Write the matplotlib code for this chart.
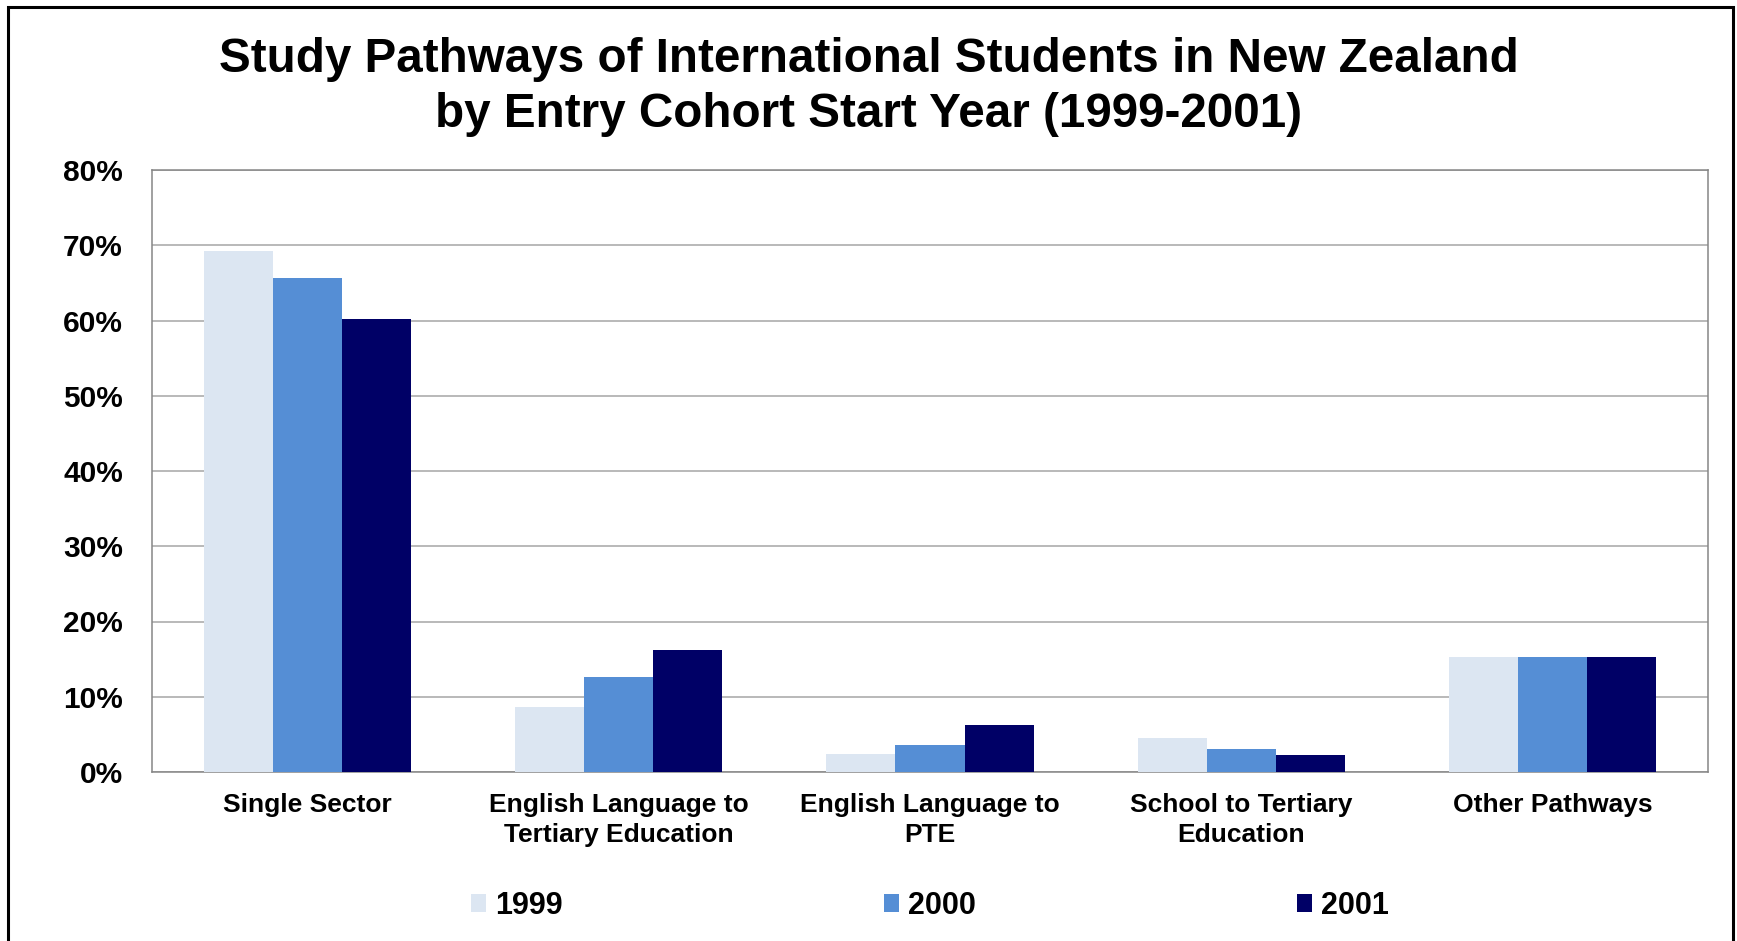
import numpy as np
import matplotlib
matplotlib.use('Agg')
import matplotlib.pyplot as plt
from matplotlib.patches import Rectangle
from matplotlib.ticker import PercentFormatter

# data
categories = ['Single Sector', 'English Language to\nTertiary Education',
              'English Language to\nPTE', 'School to Tertiary\nEducation',
              'Other Pathways']
years = ['1999', '2000', '2001']
vals_1999 = [69.2, 8.7, 2.4, 4.5, 15.3]
vals_2000 = [65.6, 12.6, 3.6, 3.1, 15.3]
vals_2001 = [60.2, 16.2, 6.2, 2.2, 15.3]
colors = ['#DCE6F2', '#558ED5', '#000066']

plt.rcParams['font.family'] = ['Liberation Sans', 'DejaVu Sans']
plt.rcParams['font.weight'] = 'bold'

fig = plt.figure(figsize=(17.37, 9.41), dpi=100)
ax = fig.add_axes([152 / 1737, 1 - 772 / 941, (1708 - 152) / 1737, (772 - 170) / 941])

x = np.arange(len(categories))
w = 0.222
for i, (yr, vals) in enumerate(zip(years, [vals_1999, vals_2000, vals_2001])):
    ax.bar(x + (i - 1) * w, vals, width=w, color=colors[i], label=yr, zorder=3)

ax.set_xlim(-0.5, len(categories) - 0.5)
ax.set_ylim(0, 80)
ax.set_yticks(np.arange(0, 81, 10))
ax.yaxis.set_major_formatter(PercentFormatter(decimals=0))
ax.set_xticks(x)
ax.set_xticklabels(categories, fontsize=19, fontweight='bold', linespacing=1.32)
ax.tick_params(axis='x', length=0, pad=15)
ax.tick_params(axis='y', length=0, pad=21, labelsize=21.5)
for lbl in ax.get_yticklabels():
    lbl.set_fontweight('bold')

ax.grid(axis='y', color='#A6A6A6', linewidth=1.1, zorder=0)
for s in ax.spines.values():
    s.set_color('#868686')
    s.set_linewidth(1.1)

fig.text(0.5, 1 - 37 / 941,
         'Study Pathways of International Students in New Zealand\nby Entry Cohort Start Year (1999-2001)',
         ha='center', va='top', fontsize=34.3, fontweight='bold', linespacing=1.28)

ax.legend(loc='center', bbox_to_anchor=(0.5, -0.222), ncol=3, frameon=False,
          fontsize=22, handlelength=0.5, handleheight=0.55, handletextpad=0.3,
          columnspacing=10.5, borderpad=0)

# outer frame
fig.patches.append(Rectangle((8 / 1737, -0.02), (1733 - 8) / 1737, 1 - 7 / 941 + 0.02,
                             transform=fig.transFigure, fill=False,
                             edgecolor='black', linewidth=2.2))

plt.savefig('out.png', dpi=100)
